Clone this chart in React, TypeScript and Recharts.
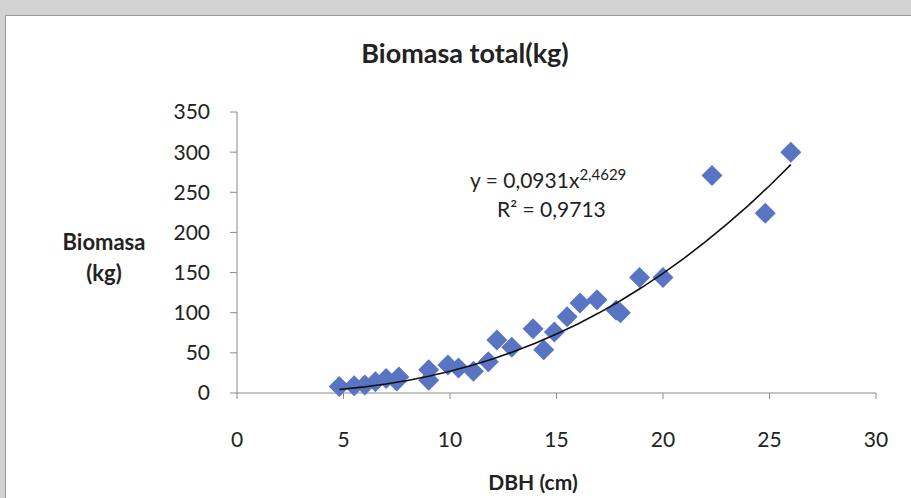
import { ScatterChart, Scatter, XAxis, YAxis } from 'recharts'

const dbh = [4.8, 5.5, 6.0, 6.5, 7.0, 7.5, 7.6, 9.0, 9.0, 9.9, 10.4, 11.1, 11.8, 12.2, 12.9, 13.9, 14.4, 14.9, 15.5, 16.1, 16.9, 17.8, 18.0, 18.9, 20.0, 22.3, 24.8, 26.0]
const biomass = [8, 9, 10, 14, 18, 15, 20, 29, 16, 35, 31, 27, 39, 66, 57, 80, 54, 76, 95, 112, 116, 103, 100, 144, 144, 271, 224, 300]

const xTicks = [0, 5, 10, 15, 20, 25, 30]
const yTicks = [0, 50, 100, 150, 200, 250, 300, 350]

// power trendline printed on the chart: y = 0,0931x^2,4629
const TREND_A = 0.0931
const TREND_B = 2.4629
const trendX = [4.8, 6, 7, 8, 9, 10, 11, 12, 13, 14, 15, 16, 17, 18, 19, 20, 21, 22, 23, 24, 25, 26]

const points = dbh.map((x, i) => ({ x, y: biomass[i] }))
const trend = trendX.map((x) => ({ x, y: TREND_A * Math.pow(x, TREND_B) }))

const font = 'Lato, "Open Sans", sans-serif'
const blue = '#5874c2'

const Diamond = (props: any) => {
  const { cx, cy } = props
  const r = 10.5
  return (
    <polygon
      points={`${cx},${cy - r} ${cx + r},${cy} ${cx},${cy + r} ${cx - r},${cy}`}
      fill={blue}
    />
  )
}

const tickStyle = { fill: '#222', fontSize: 21, fontFamily: font }

export default function App() {
  return (
    <div style={{ position: 'absolute', left: 0, top: 0, width: 911, height: 498, background: '#d2d2d2', overflow: 'hidden' }}>
      <div style={{ position: 'absolute', left: 5, top: 15, width: 910, height: 490, background: '#fff', border: '1px solid #9a9a9a' }} />
      <div style={{ position: 'absolute', left: 0, top: 0 }}>
        <ScatterChart width={911} height={498} margin={{ top: 112, right: 35, left: 177, bottom: 65 }}>
          <XAxis
            type="number"
            dataKey="x"
            domain={[0, 30]}
            ticks={xTicks}
            height={40}
            stroke="#8a8a8a"
            tickSize={6}
            tickMargin={33}
            tick={tickStyle}
            allowDataOverflow
          />
          <YAxis
            type="number"
            dataKey="y"
            domain={[0, 350]}
            ticks={yTicks}
            width={60}
            stroke="#8a8a8a"
            tickSize={7}
            tickMargin={20}
            tick={tickStyle}
          />
          <Scatter data={points} shape={<Diamond />} isAnimationActive={false} />
          <Scatter
            data={trend}
            line={{ stroke: '#111', strokeWidth: 1.6 }}
            lineType="joint"
            shape={() => <g />}
            isAnimationActive={false}
          />
        </ScatterChart>
      </div>
      <div style={{ position: 'absolute', left: 265, width: 400, top: 36, textAlign: 'center', fontFamily: font, fontWeight: 700, fontSize: 27, color: '#222' }}>
        Biomasa total(kg)
      </div>
      <div style={{ position: 'absolute', left: 44, width: 120, top: 226, textAlign: 'center', fontFamily: font, fontWeight: 700, fontSize: 22, lineHeight: '31px', color: '#222' }}>
        Biomasa<br />(kg)
      </div>
      <div style={{ position: 'absolute', left: 433, width: 200, top: 469, textAlign: 'center', fontFamily: font, fontWeight: 700, fontSize: 21, color: '#222' }}>
        DBH (cm)
      </div>
      <div style={{ position: 'absolute', left: 470, top: 165, fontFamily: font, fontSize: 21, color: '#222', whiteSpace: 'nowrap' }}>
        y = 0,0931x<sup style={{ fontSize: 15 }}>2,4629</sup>
      </div>
      <div style={{ position: 'absolute', left: 497, top: 196, fontFamily: font, fontSize: 21, color: '#222', whiteSpace: 'nowrap' }}>
        R² = 0,9713
      </div>
    </div>
  )
}
